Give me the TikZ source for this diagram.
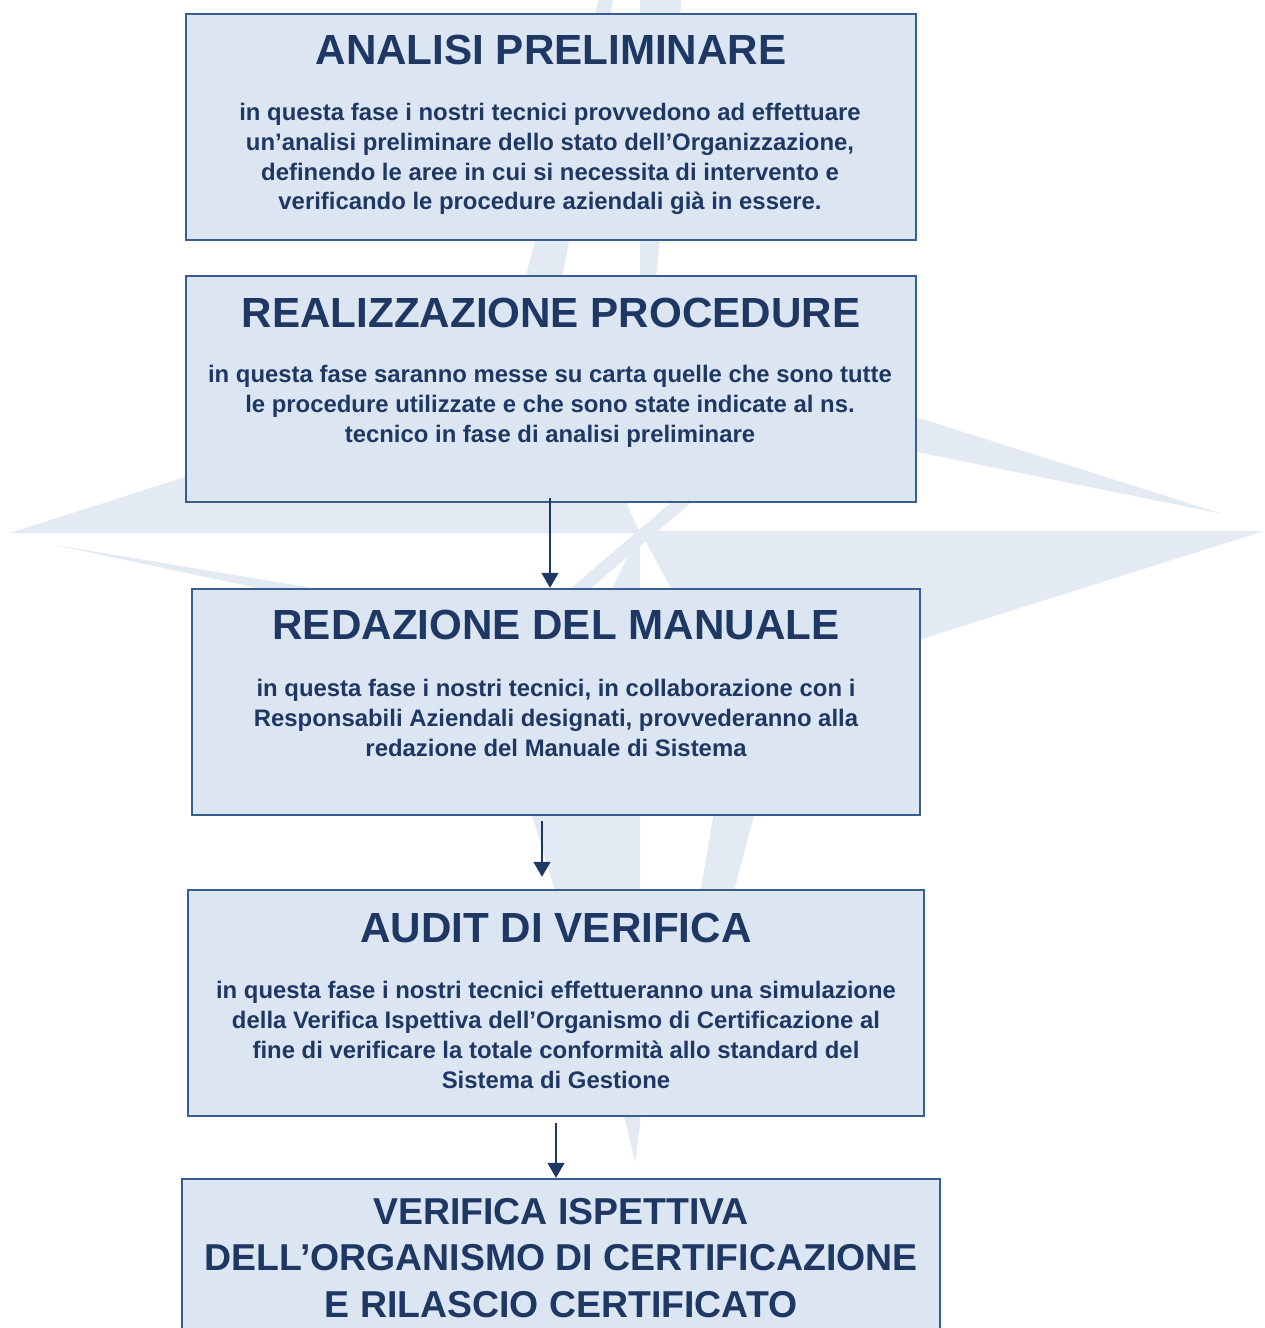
\documentclass[tikz,border=0pt]{standalone}
\usepackage{fontspec}
\setmainfont{Liberation Sans}
\usetikzlibrary{arrows.meta,calc}
\definecolor{blu}{RGB}{31,55,99}
\definecolor{bordo}{RGB}{56,93,145}
\definecolor{sfondo}{RGB}{220,230,242}
\definecolor{filigrana}{RGB}{227,234,243}

\begin{document}
\begin{tikzpicture}[x=0.02cm, y=-0.02cm,
		fase/.style={draw=bordo, line width=1.4pt, fill=sfondo, minimum height=4.52cm},
		titolo/.style={text=blu, font=\fontsize{24}{26.6}\selectfont\bfseries, align=center, inner sep=0pt},
		testo/.style={text=blu, font=\fontsize{13.6}{17}\selectfont\bfseries, align=center, inner sep=0pt},
		freccia/.style={draw=blu, line width=0.75pt, -{Triangle[length=0.3cm, width=0.34cm]}}]
		\useasboundingbox (0,0) rectangle (1264,1328);
		\fill[white] (0,0) rectangle (1264,1328);

		\fill[filigrana] (10,533) -- (640,533) -- (560,357) -- cycle;
		\fill[filigrana] (1264,531) -- (640,531) -- (731,699) -- cycle;
		\fill[filigrana] (55,545) -- (600,636) -- (600,661) -- cycle;
		\fill[filigrana] (1223,514) -- (700,349) -- (700,408) -- cycle;
		\fill[filigrana] (522,290) -- (560,290) -- (614,-5) -- (600,-5) -- cycle;
		\fill[filigrana] (640,290) -- (655,290) -- (682,-5) -- (640,-5) -- cycle;
		\fill[filigrana] (640,531) -- (640,1125) -- (635,1162) -- (625,1120) -- (532,815) -- (612,589) -- cycle;
		\fill[filigrana] (716,800) -- (758,800) -- (733,895) -- (700,895) -- cycle;
		\fill[filigrana] (570,589) -- (590,589) -- (700,495) -- (680,495) -- cycle;

		\node[fase, minimum width=14.6cm] (analisi) at (551,127) {};
		\node[titolo] (analisiT) at (551,50) {ANALISI PRELIMINARE};
		\node[testo] (analisiD) at (550,159) {in questa fase i nostri tecnici provvedono ad effettuare\\un’analisi preliminare dello stato dell’Organizzazione,\\definendo le aree in cui si necessita di intervento e\\verificando le procedure aziendali già in essere.};

		\node[fase, minimum width=14.6cm] (procedure) at (551,389) {};
		\node[titolo] (procedureT) at (551,313) {REALIZZAZIONE PROCEDURE};
		\node[testo] (procedureD) at (550,406) {in questa fase saranno messe su carta quelle che sono tutte\\le procedure utilizzate e che sono state indicate al ns.\\tecnico in fase di analisi preliminare};

		\node[fase, minimum width=14.56cm] (manuale) at (556,702) {};
		\node[titolo] (manualeT) at (556,625) {REDAZIONE DEL MANUALE};
		\node[testo] (manualeD) at (556,718) {in questa fase i nostri tecnici, in collaborazione con i\\Responsabili Aziendali designati, provvederanno alla\\redazione del Manuale di Sistema};

		\node[fase, minimum width=14.72cm] (audit) at (556,1003) {};
		\node[titolo] (auditT) at (556,928) {AUDIT DI VERIFICA};
		\node[testo] (auditD) at (556,1035) {in questa fase i nostri tecnici effettueranno una simulazione\\della Verifica Ispettiva dell’Organismo di Certificazione al\\fine di verificare la totale conformità allo standard del\\Sistema di Gestione};

		\node[fase, minimum width=15.16cm] (verifica) at (561,1292) {};
		\node[titolo, font=\fontsize{21.3}{26.6}\selectfont\bfseries] (verificaT) at (561,1258) {VERIFICA ISPETTIVA\\DELL’ORGANISMO DI CERTIFICAZIONE\\E RILASCIO CERTIFICATO};

		\draw[freccia] ($(procedure.south)+(-1,-5)$) -- ($(manuale.north)+(-6,0)$);
		\draw[freccia] ($(manuale.south)+(-14,5)$) -- ($(audit.north)+(-14,-12)$);
		\draw[freccia] ($(audit.south)+(0,6)$) -- ($(verifica.north)+(-5,0)$);
	\end{tikzpicture}
\end{document}
